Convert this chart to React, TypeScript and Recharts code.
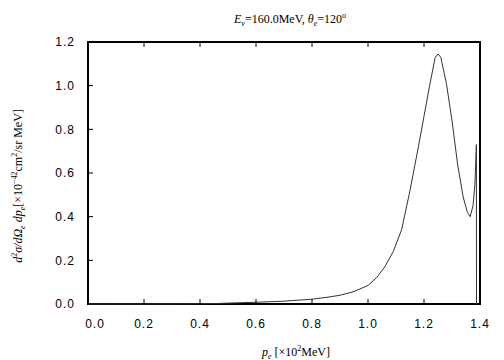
import React from 'react';
import { LineChart, Line, XAxis, YAxis, ReferenceArea } from 'recharts';

// electron momentum p_e [x10^2 MeV]
const momentum = [
  0.0, 0.3, 0.45, 0.5, 0.6, 0.7, 0.8, 0.85, 0.9, 0.95, 1.0, 1.03, 1.06, 1.09, 1.12, 1.15,
  1.18, 1.2, 1.22, 1.24, 1.25, 1.26, 1.28, 1.3, 1.32, 1.34, 1.355, 1.365, 1.375, 1.382, 1.387, 1.3875,
];
// d2sigma / dOmega dp  [x10^-42 cm^2/sr MeV]
const crossSection = [
  0, 0.0005, 0.002, 0.004, 0.008, 0.013, 0.022, 0.03, 0.04, 0.057, 0.085, 0.12, 0.17, 0.24, 0.34, 0.52,
  0.72, 0.86, 1.0, 1.13, 1.145, 1.13, 1.01, 0.84, 0.64, 0.49, 0.42, 0.4, 0.45, 0.55, 0.73, 0,
];
const xTicks = [0, 0.2, 0.4, 0.6, 0.8, 1.0, 1.2, 1.4];
const yTicks = [0, 0.2, 0.4, 0.6, 0.8, 1.0, 1.2];

const data = momentum.map((p, i) => ({ p, v: crossSection[i] }));

const TICK_FONT = 'Liberation Sans, Arial, sans-serif';
const SERIF = 'Liberation Serif, Times New Roman, serif';
const GAP_X = 15; // axis -> label (bottom)
const GAP_Y = 13; // axis -> label (left)
const TICK_LEN = 5;

// ticks are drawn inward by hand, labels outside
const BottomTick = (props: any) => {
  const { x, y, payload, index } = props;
  const axisY = y - GAP_X;
  const first = index === 0;
  return (
    <g>
      {!first && payload.value < 1.4 && <line x1={x} x2={x} y1={axisY} y2={axisY - TICK_LEN} stroke="#000" />}
      <text
        x={x + (first ? 7 : 0)}
        y={y}
        dy="0.71em"
        textAnchor="middle"
        fontSize={12}
        fontFamily={TICK_FONT}
        letterSpacing={1}
        fill="#000"
      >
        {payload.value.toFixed(1)}
      </text>
    </g>
  );
};

const TopTick = (props: any) => {
  const { x, y, payload } = props;
  const axisY = y + GAP_X;
  if (payload.value === 0 || payload.value === 1.4) return <g />;
  return <line x1={x} x2={x} y1={axisY} y2={axisY + TICK_LEN} stroke="#000" />;
};

const LeftTick = (props: any) => {
  const { x, y, payload } = props;
  const axisX = x + GAP_Y;
  const edge = payload.value === 0 || payload.value === 1.2;
  return (
    <g>
      {!edge && <line x1={axisX} x2={axisX + TICK_LEN} y1={y} y2={y} stroke="#000" />}
      <text x={x} y={y} dy="0.355em" textAnchor="end" fontSize={12} fontFamily={TICK_FONT} letterSpacing={1} fill="#000">
        {payload.value.toFixed(1)}
      </text>
    </g>
  );
};

const RightTick = (props: any) => {
  const { x, y, payload } = props;
  const axisX = x - GAP_Y;
  if (payload.value === 0 || payload.value === 1.2) return <g />;
  return <line x1={axisX} x2={axisX - TICK_LEN} y1={y} y2={y} stroke="#000" />;
};

export default function App() {
  return (
    <div style={{ position: 'absolute', left: 0, top: 0, width: 504, height: 360, background: '#fff' }}>
      <LineChart width={504} height={360} data={data} margin={{ top: 32, right: 14, bottom: 26, left: 48 }}>
        <XAxis
          dataKey="p"
          type="number"
          domain={[0, 1.4]}
          ticks={xTicks}
          height={30}
          tickSize={0}
          tickMargin={GAP_X}
          axisLine={false}
          tickLine={false}
          tick={<BottomTick />}
        />
        <XAxis
          xAxisId="top"
          orientation="top"
          dataKey="p"
          type="number"
          domain={[0, 1.4]}
          ticks={xTicks}
          height={10}
          tickSize={0}
          tickMargin={GAP_X}
          axisLine={false}
          tickLine={false}
          tick={<TopTick />}
        />
        <YAxis
          type="number"
          domain={[0, 1.2]}
          ticks={yTicks}
          width={40}
          tickSize={0}
          tickMargin={GAP_Y}
          axisLine={false}
          tickLine={false}
          tick={<LeftTick />}
        />
        <YAxis
          yAxisId="right"
          orientation="right"
          type="number"
          domain={[0, 1.2]}
          ticks={yTicks}
          width={10}
          tickSize={0}
          tickMargin={GAP_Y}
          axisLine={false}
          tickLine={false}
          tick={<RightTick />}
        />
        <ReferenceArea x1={0} x2={1.4} y1={0} y2={1.2} fill="none" stroke="#000" strokeWidth={2} ifOverflow="visible" />
        <Line
          type="linear"
          dataKey="v"
          stroke="#333"
          strokeWidth={1}
          dot={false}
          isAnimationActive={false}
        />
      </LineChart>
      <svg
        width={504}
        height={360}
        style={{ position: 'absolute', left: 0, top: 0, pointerEvents: 'none' }}
        fontFamily={SERIF}
        fill="#000"
      >
        <text x={290} y={23} textAnchor="middle" fontSize={12}>
          <tspan fontStyle="italic">E</tspan>
          <tspan fontSize={8} dy={3} fontStyle="italic">ν</tspan>
          <tspan dy={-3}>=160.0MeV,  </tspan>
          <tspan fontStyle="italic">θ</tspan>
          <tspan fontSize={8} dy={3} fontStyle="italic">e</tspan>
          <tspan dy={-3}>=120</tspan>
          <tspan fontSize={8} dy={-5}>o</tspan>
        </text>
        <text transform="translate(22,186) rotate(-90)" textAnchor="middle" fontSize={12}>
          <tspan fontStyle="italic">d</tspan>
          <tspan fontSize={8} dy={-5}>2</tspan>
          <tspan dy={5} fontStyle="italic">σ/dΩ</tspan>
          <tspan fontSize={8} dy={3} fontStyle="italic">e</tspan>
          <tspan dy={-3} fontStyle="italic"> dp</tspan>
          <tspan fontSize={8} dy={3} fontStyle="italic">e</tspan>
          <tspan dy={-3}>[×10</tspan>
          <tspan fontSize={8} dy={-5}>−42</tspan>
          <tspan dy={5}>cm</tspan>
          <tspan fontSize={8} dy={-5}>2</tspan>
          <tspan dy={5}>/sr MeV]</tspan>
        </text>
        <text x={296} y={356} textAnchor="middle" fontSize={12}>
          <tspan fontStyle="italic">p</tspan>
          <tspan fontSize={8} dy={3} fontStyle="italic">e</tspan>
          <tspan dy={-3}> [×10</tspan>
          <tspan fontSize={8} dy={-5}>2</tspan>
          <tspan dy={5}>MeV]</tspan>
        </text>
      </svg>
    </div>
  );
}
